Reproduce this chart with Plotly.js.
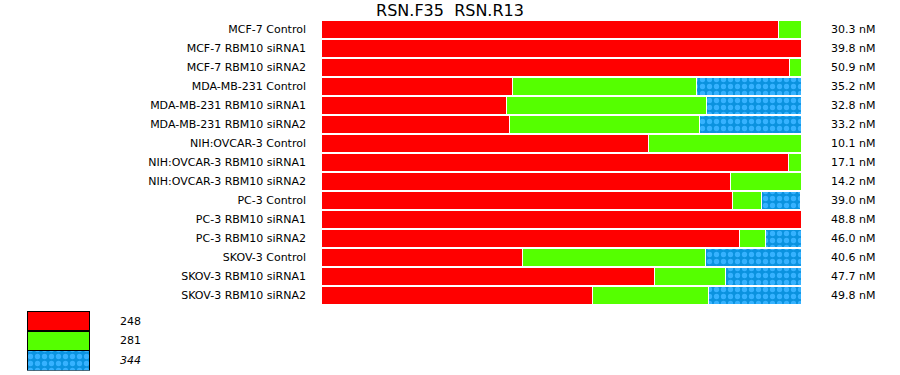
<!DOCTYPE html>
<html><head><meta charset="utf-8">
<script src="https://cdn.plot.ly/plotly-3.0.1.min.js"></script>
<style>html,body{margin:0;padding:0;background:#fff}</style>
</head><body>
<div id="chart" style="width:900px;height:375px"></div>
<script>
const categories = ["MCF-7 Control","MCF-7 RBM10 siRNA1","MCF-7 RBM10 siRNA2","MDA-MB-231 Control","MDA-MB-231 RBM10 siRNA1","MDA-MB-231 RBM10 siRNA2","NIH:OVCAR-3 Control","NIH:OVCAR-3 RBM10 siRNA1","NIH:OVCAR-3 RBM10 siRNA2","PC-3 Control","PC-3 RBM10 siRNA1","PC-3 RBM10 siRNA2","SKOV-3 Control","SKOV-3 RBM10 siRNA1","SKOV-3 RBM10 siRNA2"];
const s248 = [95.4,100,97.5,39.8,38.7,39.2,68.3,97.3,85.4,85.8,100,87.1,41.9,69.4,56.5];
const s281 = [4.6,0,2.5,38.5,41.7,39.6,31.7,2.7,14.6,6.0,0,5.4,38.1,14.8,24.2];
const s344 = [0,0,0,21.7,19.6,21.2,0,0,0,8.1,0,7.5,20.0,15.8,19.4];
const ic50Labels = ["30.3 nM","39.8 nM","50.9 nM","35.2 nM","32.8 nM","33.2 nM","10.1 nM","17.1 nM","14.2 nM","39.0 nM","48.8 nM","46.0 nM","40.6 nM","47.7 nM","49.8 nM"];
const seriesNames = ["248","281","344"];
const titleText = "RSN.F35&nbsp;&nbsp;RSN.R13";

const colors = ["#ff0000","#55ff00","#0a92df"];
const blueDots = {shape:".", fgcolor:"#36b2ff", bgcolor:"#0a92df", size:7, solidity:0.45};
const W = 900, H = 375;
const font = {family:"DejaVu Sans, Verdana, sans-serif", size:11, color:"#000"};

const series = [s248, s281, s344];
const traces = series.map((vals, i) => ({
  type:"bar", orientation:"h", name:seriesNames[i],
  x: vals, y: categories, xaxis:"x", yaxis:"y",
  marker:{color:colors[i], line:{color:"#fff", width:1}, pattern: i===2 ? blueDots : {shape:""}},
  hoverinfo:"x+y", showlegend:false
}));

// legend swatches drawn as a small stacked bar in its own subplot
const legendOrder = [2,1,0];
legendOrder.forEach(i => {
  traces.push({
    type:"bar", x:["k"], y:[1], width:[1], xaxis:"x2", yaxis:"y2",
    marker:{color:colors[i], line:{color:"#000", width:1.5}, pattern: i===2 ? blueDots : {shape:""}},
    showlegend:false, hoverinfo:"skip"
  });
});

const annotations = ic50Labels.map((t, i) => ({
  xref:"paper", yref:"y", x:829/W, y:categories[i], text:t,
  xanchor:"left", yanchor:"middle", showarrow:false, font:font
}));
seriesNames.forEach((n, i) => {
  annotations.push({
    xref:"paper", yref:"paper", x:118/W, y:1-(321+i*19.7)/H,
    text: i===2 ? "<i>"+n+"</i>" : n, xanchor:"left", yanchor:"middle",
    showarrow:false, font:font
  });
});

const layout = {
  width:W, height:H,
  margin:{l:0,r:0,t:0,b:0,pad:0},
  paper_bgcolor:"#fff", plot_bgcolor:"#fff",
  barmode:"stack", bargap:0.08,
  font:font,
  title:{text:titleText, x:0.5, xanchor:"center", xref:"container", y:1-10/H, yanchor:"middle", yref:"container",
         font:{family:"DejaVu Sans, Verdana, sans-serif", size:16, color:"#000"}},
  xaxis:{domain:[321/W, 801/W], range:[0,100], showgrid:false, zeroline:false, showticklabels:false, showline:false, fixedrange:true},
  yaxis:{domain:[1-305/H, 1-20/H], type:"category", categoryorder:"array", categoryarray:categories, autorange:"reversed",
         showgrid:false, zeroline:false, showline:false, ticks:"", ticklabelstandoff:14, tickfont:font, fixedrange:true},
  xaxis2:{domain:[27/W, 90/W], anchor:"y2", range:[-0.5,0.5], visible:false, fixedrange:true},
  yaxis2:{domain:[1-370.5/H, 1-311/H], anchor:"x2", range:[0,3], visible:false, fixedrange:true},
  annotations:annotations
};

Plotly.newPlot("chart", traces, layout, {displayModeBar:false, staticPlot:true});
</script>
</body></html>
